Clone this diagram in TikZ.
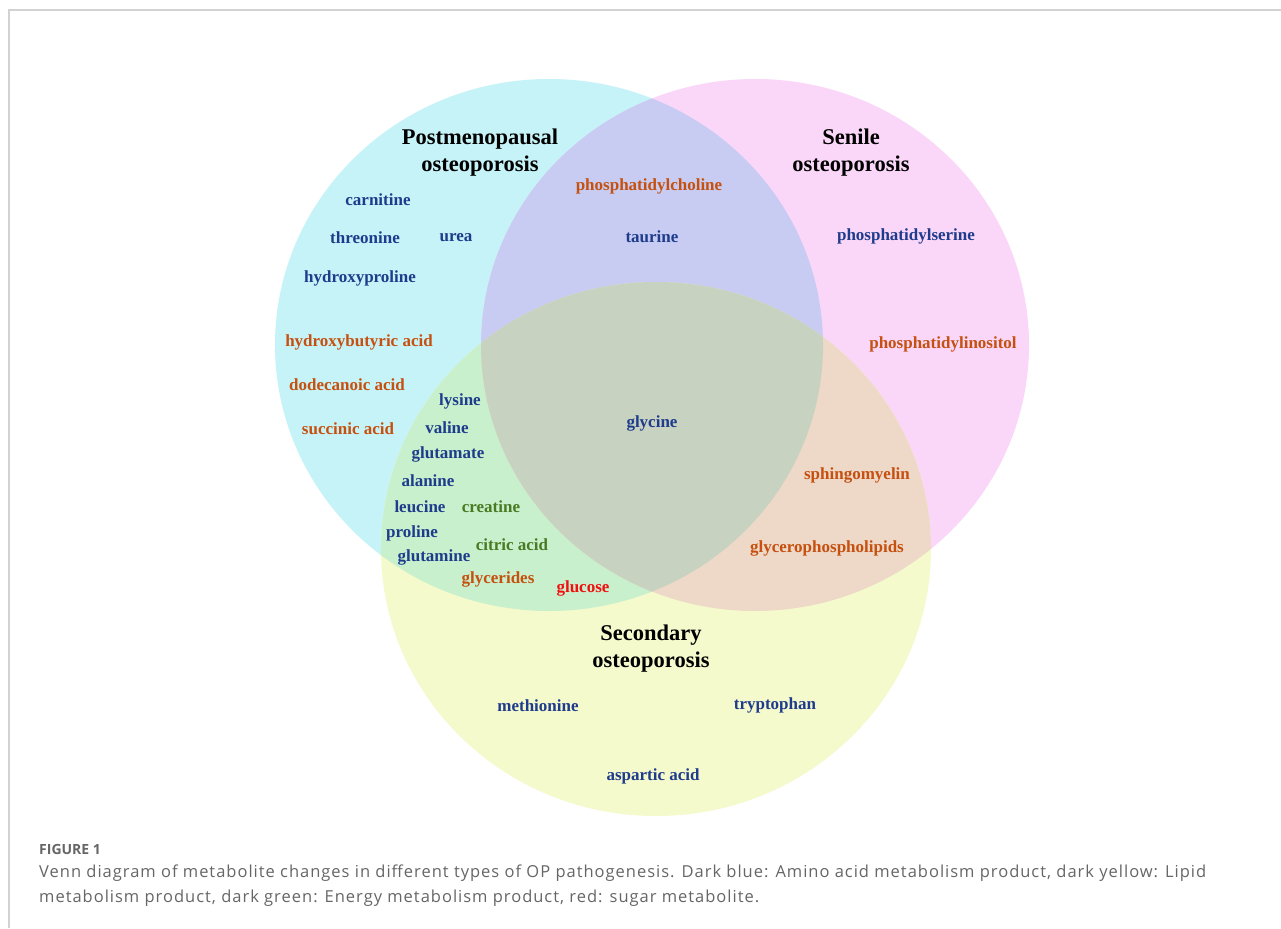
\documentclass[tikz,border=0pt]{standalone}
\usepackage{fontspec}
\setmainfont{Liberation Serif}
\newfontfamily\capfont[LetterSpace=6]{Open Sans}
\newfontfamily\figfont{Open Sans}
\definecolor{cC}{HTML}{C5F3F7}
\definecolor{cP}{HTML}{FAD7F8}
\definecolor{cY}{HTML}{F5FACC}
\definecolor{cCP}{HTML}{C8CCF2}
\definecolor{cCY}{HTML}{C8F0CC}
\definecolor{cPY}{HTML}{EED8C8}
\definecolor{cCPY}{HTML}{C8D2C0}
\definecolor{tblue}{HTML}{1F3C8C}
\definecolor{torange}{HTML}{C5500F}
\definecolor{tgreen}{HTML}{4A7A22}
\definecolor{tred}{HTML}{F01010}
\definecolor{framec}{HTML}{D2D2D2}
\definecolor{capc}{HTML}{666666}
\tikzset{
  lab/.style={inner sep=0pt, font=\fontsize{17}{19}\selectfont\bfseries},
  amino/.style={lab, text=tblue},
  lipid/.style={lab, text=torange},
  energy/.style={lab, text=tgreen},
  sugar/.style={lab, text=tred},
  ttl/.style={inner sep=0pt, align=center, font=\fontsize{22.5}{27}\selectfont\bfseries, text=black},
  captext/.style={inner sep=0pt, anchor=base west, text=capc},
}
\def\cyanE{(549,345) ellipse [x radius=274pt, y radius=266pt]}
\def\pinkE{(755,345) ellipse [x radius=274pt, y radius=266pt]}
\def\yelE{(656,549) ellipse [x radius=275pt, y radius=267pt]}
\begin{document}
\begin{tikzpicture}[x=1pt,y=-1pt]
\useasboundingbox (0,0) rectangle (1281,928);
\fill[white] (0,0) rectangle (1281,928);
\draw[framec, line width=1.5pt] (9,928) -- (9,10) -- (1281,10);
% single sets
\fill[cC] \cyanE;
\fill[cP] \pinkE;
\fill[cY] \yelE;
% pairwise
\begin{scope}\clip \cyanE; \fill[cCP] \pinkE; \end{scope}
\begin{scope}\clip \cyanE; \fill[cCY] \yelE; \end{scope}
\begin{scope}\clip \pinkE; \fill[cPY] \yelE; \end{scope}
\begin{scope}\clip \cyanE; \clip \pinkE; \fill[cCPY] \yelE; \end{scope}
% titles
\node[ttl] (tpost) at (480,153) {Postmenopausal\\osteoporosis};
\node[ttl] (tsen) at (851,153) {Senile\\osteoporosis};
\node[ttl] (tsec) at (651,649) {Secondary\\osteoporosis};
% labels
\node[lipid] (pchol) at (649,186) {phosphatidylcholine};
\node[amino] (taur) at (652,237) {taurine};
\node[amino] (carn) at (378,200) {carnitine};
\node[amino] (thre) at (365,238) {threonine};
\node[amino] (urea) at (456,238) {urea};
\node[amino] (hpro) at (360,278) {hydroxyproline};
\node[lipid] (hbut) at (359,342) {hydroxybutyric acid};
\node[lipid] (dode) at (347,385) {dodecanoic acid};
\node[lipid] (succ) at (348,429) {succinic acid};
\node[amino] (lys) at (460,401) {lysine};
\node[amino] (val) at (447,428) {valine};
\node[amino] (glum) at (448,454) {glutamate};
\node[amino] (ala) at (428,481) {alanine};
\node[amino] (leu) at (420,507) {leucine};
\node[energy] (crea) at (491,507) {creatine};
\node[amino] (pro) at (412,533) {proline};
\node[amino] (glun) at (434,557) {glutamine};
\node[energy] (citr) at (512,545) {citric acid};
\node[lipid] (glyc) at (498,579) {glycerides};
\node[sugar] (gluc) at (583,588) {glucose};
\node[amino] (glyn) at (652,423) {glycine};
\node[amino] (pser) at (906,236) {phosphatidylserine};
\node[lipid] (pino) at (943,344) {phosphatidylinositol};
\node[lipid] (sphi) at (857,475) {sphingomyelin};
\node[lipid] (gpl) at (827,548) {glycerophospholipids};
\node[amino] (meth) at (538,706) {methionine};
\node[amino] (tryp) at (775,705) {tryptophan};
\node[amino] (asp) at (653,776) {aspartic acid};
% caption
\node[captext, font=\figfont\bfseries\fontsize{14}{16}\selectfont] (fig) at (39,854) {FIGURE 1};
\node[captext, font=\capfont\fontsize{16.5}{19}\selectfont] (c1) at (39,877) {Venn diagram of metabolite changes in different types of OP pathogenesis. Dark blue: Amino acid metabolism product, dark yellow: Lipid};
\node[captext, font=\capfont\fontsize{16.5}{19}\selectfont] (c2) at (39,902) {metabolism product, dark green: Energy metabolism product, red: sugar metabolite.};
\end{tikzpicture}
\end{document}
